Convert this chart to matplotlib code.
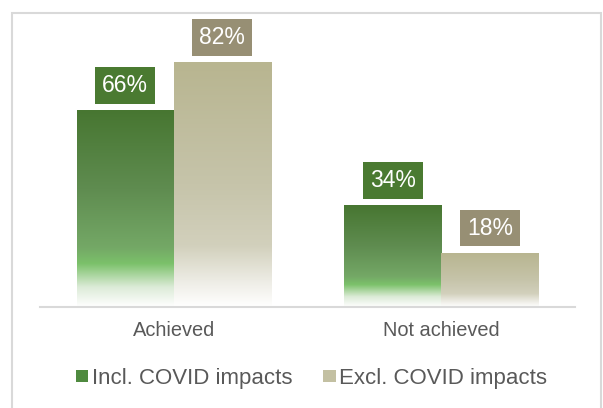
import numpy as np
import matplotlib.pyplot as plt
from matplotlib.colors import LinearSegmentedColormap
from matplotlib.patches import Rectangle, Patch

plt.rcParams['font.family'] = ['Liberation Sans', 'DejaVu Sans']

# Data
categories = ['Achieved', 'Not achieved']
series_names = ['Incl. COVID impacts', 'Excl. COVID impacts']
incl_covid = [66, 34]
excl_covid = [82, 18]

# Colours
green_stops = [(0.0, '#477631'), (0.40, '#5f8c50'), (0.70, '#74a866'),
               (0.78, '#7bc16a'), (0.90, '#dcebd7'), (1.0, '#ffffff')]
beige_stops = [(0.0, '#b8b590'), (0.50, '#c6c4aa'), (0.75, '#d2d0bc'),
               (0.90, '#eeede6'), (1.0, '#ffffff')]
green_box = '#4a7a31'
beige_box = '#978f74'
text_grey = '#595959'
line_grey = '#d9d9d9'

green_cmap = LinearSegmentedColormap.from_list('g', green_stops)
beige_cmap = LinearSegmentedColormap.from_list('b', beige_stops)

fig = plt.figure(figsize=(6.03, 4.08), dpi=100)
ax = fig.add_axes([40 / 603, 101 / 408, 535 / 603, 297.6 / 408])

x = np.arange(len(categories))
width = 0.363

bars1 = ax.bar(x - width / 2, incl_covid, width, color='none', edgecolor='none')
bars2 = ax.bar(x + width / 2, excl_covid, width, color='none', edgecolor='none')

# gradient fill inside each bar
grad = np.linspace(0, 1, 256).reshape(-1, 1)
for bars, cmap in [(bars1, green_cmap), (bars2, beige_cmap)]:
    for r in bars:
        x0, w, h = r.get_x(), r.get_width(), r.get_height()
        ax.imshow(grad, cmap=cmap, aspect='auto', extent=(x0, x0 + w, 0, h),
                  origin='upper', zorder=2, interpolation='bilinear')

# value labels in coloured boxes
for bars, vals, c in [(bars1, incl_covid, green_box), (bars2, excl_covid, beige_box)]:
    for r, v in zip(bars, vals):
        ax.annotate(f'{v}%', (r.get_x() + r.get_width() / 2, v),
                    xytext=(0, 10), textcoords='offset points',
                    ha='center', va='bottom', fontsize=16.5, color='white',
                    bbox=dict(boxstyle='square,pad=0.3', fc=c, ec='none'),
                    zorder=3)

ax.set_xlim(-0.5, 1.5)
ax.set_ylim(0, 100)
ax.set_yticks([])
ax.set_xticks(x)
ax.set_xticklabels(categories, fontsize=14.4, color=text_grey)
ax.tick_params(axis='x', length=0, pad=10)
for s in ['top', 'left', 'right']:
    ax.spines[s].set_visible(False)
ax.spines['bottom'].set_color(line_grey)
ax.spines['bottom'].set_linewidth(1.5)
ax.spines['bottom'].set_zorder(4)

handles = [Patch(facecolor='#4f8a3f'), Patch(facecolor='#c3c0a2')]
fig.legend(handles, series_names, loc='center', bbox_to_anchor=(0.5166, 0.0735),
           ncol=2, frameon=False, fontsize=16, labelcolor=text_grey,
           handlelength=0.55, handleheight=0.45, handletextpad=0.15,
           columnspacing=1.4)

# outer chart border
fig.patches.append(Rectangle((12 / 603, -0.1), 589 / 603, 1.1 - 13 / 408,
                             transform=fig.transFigure, fill=False,
                             edgecolor=line_grey, linewidth=1.5))

fig.savefig('out.png', dpi=100)
